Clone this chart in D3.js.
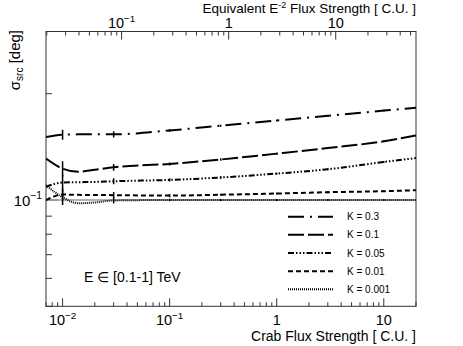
<!DOCTYPE html>
<html>
<head>
<meta charset="utf-8">
<script src="https://cdn.jsdelivr.net/npm/d3@7"></script>
<style>
  body { margin: 0; background: #fff; }
  svg text { font-family: "Liberation Sans", Arial, Helvetica, sans-serif; fill: #000; }
</style>
</head>
<body>
<div id="chart"></div>
<script>
// flux grid in Crab units and sigma_src [deg] for each K
var flux = [0.007, 0.01, 0.014, 0.02, 0.03, 0.1, 0.3, 1, 3, 10, 20];
var sigK03 = [0.1508, 0.1531, 0.1534, 0.1534, 0.1534, 0.1574, 0.1623, 0.1679, 0.1731, 0.1791, 0.1825];
var sigK01 = [0.1310, 0.1227, 0.1202, 0.1218, 0.1238, 0.1265, 0.1302, 0.1353, 0.1403, 0.1466, 0.1524];
var sigK005 = [0.1089, 0.1121, 0.1123, 0.1125, 0.1130, 0.1140, 0.1158, 0.1188, 0.1222, 0.1281, 0.1315];
var sigK001 = [0.0999, 0.1036, 0.1034, 0.1033, 0.1032, 0.1029, 0.1035, 0.1043, 0.1052, 0.1059, 0.1066];
var sigK0001 = [0.1101, 0.1018, 0.0979, 0.0984, 0.0997, 0.1000, 0.1000, 0.1000, 0.1000, 0.1000, 0.1000];

// points that carry error bars, relative errors
var errFlux = [0.01, 0.03, 0.1, 0.3, 1, 3, 10];
var errK03 = [0.033, 0.02, 0.008, 0.006, 0.006, 0.006, 0.006];
var errK01 = [0.05, 0.022, 0.01, 0.008, 0.006, 0.006, 0.006];
var errK005 = [0.05, 0.02, 0.01, 0.008, 0.006, 0.006, 0.006];
var errK001 = [0.04, 0.02, 0.01, 0.006, 0.006, 0.006, 0.006];
var errK0001 = [0.05, 0.02, 0.008, 0.006, 0.006, 0.006, 0.006];

var kLabels = ["K = 0.3", "K = 0.1", "K = 0.05", "K = 0.01", "K = 0.001"];
var refSigma = 0.1;
var e2Factor = 2.81; // top axis = crab flux * factor

var xLabVals = [0.01, 0.1, 1, 10];
var xLabSup = ["\u22122", "\u22121", "", ""];
var topLabVals = [0.1, 1, 10];
var topLabSup = ["\u22121", "", ""];

(function () {
    var width = 463, height = 346;
    var pL = 46, pR = 416, pT = 31.5, pB = 306.3;

    var svg = d3.select("#chart").append("svg")
        .attr("width", width)
        .attr("height", height);

    var x = d3.scaleLog().domain([0.007, 20]).range([pL, pR]);
    var xTop = d3.scaleLog().domain([0.007 * e2Factor, 20 * e2Factor]).range([pL, pR]);
    var y = d3.scaleLog().domain([0.05, 0.3]).range([pB, pT]);

    svg.append("clipPath").attr("id", "clip")
        .append("rect")
        .attr("x", pL).attr("y", pT)
        .attr("width", pR - pL).attr("height", pB - pT);

    // log ticks k*10^n inside the domain
    function logTicks(scale) {
        var d = scale.domain(), out = [];
        for (var n = -4; n <= 3; n++) {
            for (var k = 1; k <= 9; k++) {
                var v = k * Math.pow(10, n);
                if (v >= d[0] * 0.9999 && v <= d[1] * 1.0001) out.push({v: v, major: k === 1});
            }
        }
        return out;
    }

    var gAxes = svg.append("g").attr("stroke", "#333").attr("stroke-width", 1);

    logTicks(x).forEach(function (t) {
        var px = x(t.v);
        gAxes.append("line").attr("x1", px).attr("x2", px)
            .attr("y1", pB).attr("y2", pB - (t.major ? 8 : 4));
    });
    logTicks(xTop).forEach(function (t) {
        var px = xTop(t.v);
        gAxes.append("line").attr("x1", px).attr("x2", px)
            .attr("y1", pT).attr("y2", pT + (t.major ? 8 : 4));
    });
    logTicks(y).forEach(function (t) {
        var py = y(t.v);
        gAxes.append("line").attr("x1", pL).attr("x2", pL + (t.major ? 12 : 6))
            .attr("y1", py).attr("y2", py);
    });

    // frame
    svg.append("rect")
        .attr("x", pL).attr("y", pT)
        .attr("width", pR - pL).attr("height", pB - pT)
        .attr("fill", "none").attr("stroke", "#333").attr("stroke-width", 1);

    function supLabel(g, px, py, base, sup, size, anchor) {
        var t = g.append("text").attr("x", px).attr("y", py)
            .attr("font-size", size).attr("text-anchor", anchor);
        t.append("tspan").text(base);
        if (sup) t.append("tspan").attr("dy", -size * 0.42).attr("font-size", size * 0.68).text(sup);
        return t;
    }

    xLabVals.forEach(function (v, i) {
        supLabel(svg, x(v), 325, v >= 1 ? String(v) : "10", xLabSup[i], 14.5, "middle");
    });
    topLabVals.forEach(function (v, i) {
        supLabel(svg, xTop(v), 28, v >= 1 ? String(v) : "10", topLabSup[i], 14.5, "middle");
    });
    supLabel(svg, 42, 205.5, "10", "\u22121", 15, "end");

    // axis titles
    svg.append("text").attr("x", pR).attr("y", 341)
        .attr("font-size", 14).attr("text-anchor", "end")
        .text("Crab Flux Strength [ C.U. ]");

    var tt = svg.append("text").attr("x", pR).attr("y", 13)
        .attr("font-size", 13.5).attr("text-anchor", "end");
    tt.append("tspan").text("Equivalent E");
    tt.append("tspan").attr("dy", -5).attr("font-size", 9).text("-2");
    tt.append("tspan").attr("dy", 5).text(" Flux Strength [ C.U. ]");

    var yt = svg.append("text").attr("transform", "translate(20,30) rotate(-90)")
        .attr("font-size", 15).attr("text-anchor", "end");
    yt.append("tspan").text("\u03C3");
    yt.append("tspan").attr("dy", 3).attr("font-size", 10).text("src");
    yt.append("tspan").attr("dy", -3).text(" [deg]");

    svg.append("text").attr("x", 84).attr("y", 282)
        .attr("font-size", 14).text("E \u2208 [0.1-1] TeV");

    // curves
    var plot = svg.append("g").attr("clip-path", "url(#clip)");

    plot.append("line")
        .attr("x1", pL).attr("x2", pR)
        .attr("y1", y(refSigma)).attr("y2", y(refSigma))
        .attr("stroke", "#999").attr("stroke-width", 1.5);

    var series = [
        {name: kLabels[0], vals: sigK03, err: errK03, dash: "16,6,2,6"},
        {name: kLabels[1], vals: sigK01, err: errK01, dash: "16,4"},
        {name: kLabels[2], vals: sigK005, err: errK005, dash: "6,2,1.5,2,1.5,2,1.5,2"},
        {name: kLabels[3], vals: sigK001, err: errK001, dash: "5,3"},
        {name: kLabels[4], vals: sigK0001, err: errK0001, dash: "1,1"}
    ];

    var line = d3.line()
        .x(function (d) { return x(d[0]); })
        .y(function (d) { return y(d[1]); })
        .curve(d3.curveMonotoneX);

    series.forEach(function (s) {
        plot.append("path")
            .datum(flux.map(function (f, i) { return [f, s.vals[i]]; }))
            .attr("d", line)
            .attr("fill", "none")
            .attr("stroke", "#000")
            .attr("stroke-width", 2)
            .attr("stroke-dasharray", s.dash);

        errFlux.forEach(function (f, j) {
            var v = s.vals[flux.indexOf(f)];
            plot.append("line")
                .attr("x1", x(f)).attr("x2", x(f))
                .attr("y1", y(v * (1 + s.err[j]))).attr("y2", y(v * (1 - s.err[j])))
                .attr("stroke", "#000").attr("stroke-width", 1.5);
        });
    });

    // legend
    var legend = svg.append("g");
    series.forEach(function (s, i) {
        var ly = 216.7 + i * 18.15;
        legend.append("line")
            .attr("x1", 288).attr("x2", 333)
            .attr("y1", ly).attr("y2", ly)
            .attr("stroke", "#000").attr("stroke-width", 2)
            .attr("stroke-dasharray", s.dash);
        legend.append("text").attr("x", 347).attr("y", ly + 3.5)
            .attr("font-size", 10).text(s.name);
    });
})();
</script>
</body>
</html>
